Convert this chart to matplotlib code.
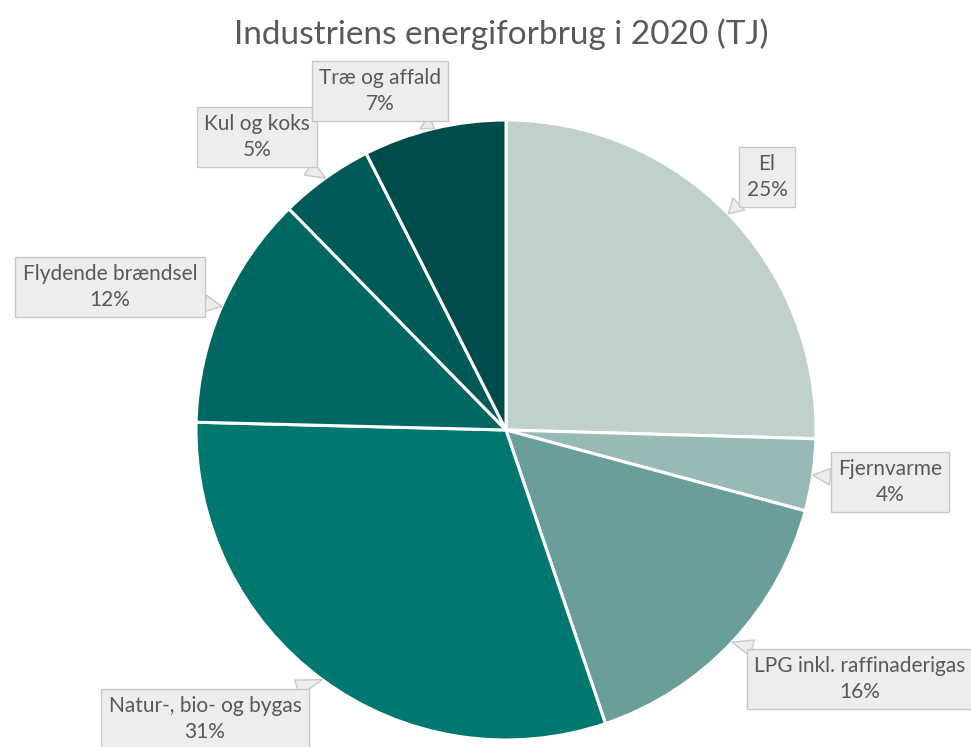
import numpy as np
from matplotlib import pyplot as plt

labels = ['El', 'Fjernvarme', 'LPG inkl. raffinaderigas', 'Natur-, bio- og bygas',
          'Flydende brændsel', 'Kul og koks', 'Træ og affald']
shares = [25.45, 3.75, 15.6, 30.6, 12.25, 4.9, 7.45]
colors = ['#bfd0cd', '#97bab6', '#6a9e9a', '#007870', '#006762', '#005b58', '#004c4a']

# label box centres in pixel coords (x right, y down)
box_pos = [(767, 177), (890, 482), (860, 679), (205, 719), (110, 287), (257, 137), (380, 91)]

W, H = 971, 747
cx, cy, r = 506, 430, 310

fig = plt.figure(figsize=(W / 100, H / 100), dpi=100)
ax = fig.add_axes([0, 0, 1, 1])

wedges, _ = ax.pie(shares, colors=colors, startangle=90, counterclock=False,
                   center=(cx, H - cy), radius=r,
                   wedgeprops=dict(edgecolor='white', linewidth=2.2))

# pie() sets its own limits, so set the pixel frame afterwards
ax.set_xlim(0, W)
ax.set_ylim(0, H)
ax.set_aspect('equal')
ax.axis('off')

total = sum(shares)
for w, lab, val, (bx, by) in zip(wedges, labels, shares, box_pos):
    ang = np.deg2rad((w.theta1 + w.theta2) / 2)
    tip = (cx + r * np.cos(ang), H - cy + r * np.sin(ang))
    ax.annotate(f'{lab}\n{round(100 * val / total)}%', xy=tip, xytext=(bx, H - by),
                ha='center', va='center', fontsize=15, color='#595959',
                family=['Lato', 'DejaVu Sans'], linespacing=1.4,
                bbox=dict(boxstyle='square,pad=0.35', fc='#ededed', ec='#c8c8c8', lw=1),
                arrowprops=dict(arrowstyle='wedge,tail_width=0.8,shrink_factor=0.5',
                                fc='#ededed', ec='#c8c8c8', lw=1,
                                shrinkA=0, shrinkB=0),
                zorder=5)

ax.text(W / 2 + 16, H - 34, 'Industriens energiforbrug i 2020 (TJ)', ha='center', va='center',
        fontsize=24, color='#595959', family=['Lato', 'DejaVu Sans'])

fig.savefig('out.png', dpi=100)
